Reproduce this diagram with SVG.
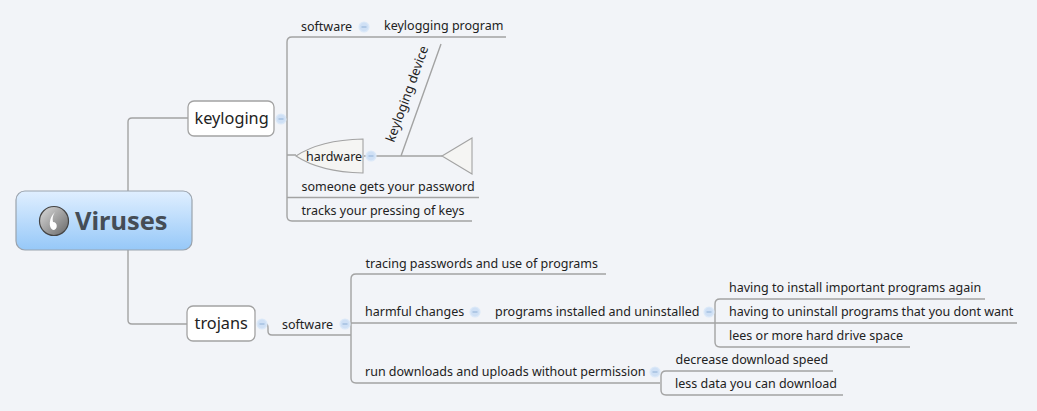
<svg xmlns="http://www.w3.org/2000/svg" width="1037" height="411" viewBox="0 0 1037 411">
<style>
text{font-family:"Noto Sans","DejaVu Sans",sans-serif;font-size:12.5px;fill:#222}
.l{fill:none;stroke:#a3a3a3;stroke-width:1.4}
.m{fill:#cfe0f5;stroke:#dce9f8;stroke-width:1.2}
.d{stroke:#8fb0d6;stroke-width:1}
.b{fill:#fff;stroke:#a3a3a3;stroke-width:1.3}
.s{fill:#f5f5f3;stroke:#a3a3a3;stroke-width:1.1}
.t{font-size:16.3px}
</style>
<defs>
<linearGradient id="g" x1="0" y1="0" x2="0" y2="1"><stop offset="0" stop-color="#e0efff"/><stop offset="1" stop-color="#96c8f8"/></linearGradient>
<linearGradient id="c" x1="0" y1="0" x2="1" y2="1"><stop offset="0" stop-color="#ddd"/><stop offset="1" stop-color="#666"/></linearGradient>
<g id="mk"><circle r="5" class="m"/><path d="M-2.500 0H2.500" class="d"/></g>
</defs>
<rect width="1037" height="411" fill="#f2f4f8"/>
<g id="connectors">
<path class="l" d="M188 118H132Q128 118 128 122V191M128 250V320Q128 324 132 324H187"/>
<path class="l" d="M282 118H287M292 37H506M292 37Q287 37 287 42V216Q287 221 292 221H472M287 197.500H479M287 155H296"/>
<path class="l" d="M364 156H442M401 156L441 44"/>
<path class="l" d="M266 324Q268 324 268 328V331Q268 335 272 335H351M356 274H606M356 274Q351 274 351 279V378Q351 383 356 383H660M351 323H1017"/>
<path class="l" d="M720 299Q715 299 715 304V342Q715 347 720 347H910M720 299H985"/>
<path class="l" d="M666 371Q661 371 661 376V390Q661 395 666 395H843M666 371H833"/>
</g>
<g id="n-viruses">
<rect x="16" y="191" width="176" height="59" rx="9" fill="url(#g)" stroke="#9aa3ad" stroke-width="1.2"/>
<circle cx="54" cy="221" r="14.500" fill="url(#c)" stroke="#444" stroke-width="1.2"/>
<path d="M55 212C49 217 48 228 53 230C58 230 58 222 53 222C52 218 53 215 55 212Z" fill="#fff"/>
<text x="75" y="230" style="font-size:25.4px;font-weight:bold;fill:#454d56">Viruses</text>
</g>
<g id="n-keyloging">
<rect class="b" x="188" y="101" width="86" height="35" rx="6"/>
<text class="t" x="194.500" y="124">keyloging</text>
<use href="#mk" x="281" y="119"/>
</g>
<g id="n-software-1">
<text x="301" y="31">software</text>
<use href="#mk" x="364" y="27"/>
</g>
<g id="n-keylogging-program"><text x="384" y="30">keylogging program</text></g>
<g id="n-hardware">
<path class="s" d="M296 156Q320 140 363 139V173Q320 172 296 156Z"/>
<text x="306" y="161">hardware</text>
<use href="#mk" x="371" y="156"/>
</g>
<g id="n-keylogging-device"><text transform="translate(394 143) rotate(-70)" style="font-size:13px">keyloging device</text></g>
<g id="n-triangle"><path class="s" d="M442 156L472 138V174Z"/></g>
<g id="n-password"><text x="301.500" y="191">someone gets your password</text></g>
<g id="n-tracks"><text x="301.500" y="215">tracks your pressing of keys</text></g>
<g id="n-trojans">
<rect class="b" x="187" y="306" width="68" height="35" rx="6"/>
<text class="t" x="194.500" y="329">trojans</text>
<use href="#mk" x="262" y="324"/>
</g>
<g id="n-software-2">
<text x="282" y="329">software</text>
<use href="#mk" x="345" y="324"/>
</g>
<g id="n-tracing"><text x="365.500" y="268">tracing passwords and use of programs</text></g>
<g id="n-harmful">
<text x="365" y="316">harmful changes</text>
<use href="#mk" x="475" y="312"/>
</g>
<g id="n-installed">
<text x="495" y="316">programs installed and uninstalled</text>
<use href="#mk" x="709" y="312"/>
</g>
<g id="n-again"><text x="729" y="292">having to install important programs again</text></g>
<g id="n-uninstall"><text x="729" y="316">having to uninstall programs that you dont want</text></g>
<g id="n-space"><text x="729" y="340">lees or more hard drive space</text></g>
<g id="n-run">
<text x="365" y="376">run downloads and uploads without permission</text>
<use href="#mk" x="655" y="372"/>
</g>
<g id="n-speed"><text x="675.500" y="364">decrease download speed</text></g>
<g id="n-less"><text x="675" y="388">less data you can download</text></g>
</svg>
